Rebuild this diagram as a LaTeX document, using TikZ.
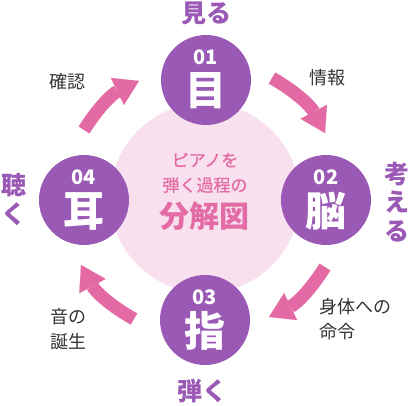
\documentclass[tikz,border=0pt]{standalone}
\usepackage{fontspec}
\newfontfamily\jp{Noto Sans CJK JP}
\newfontfamily\jpm[FakeBold=0.7]{Noto Sans CJK JP}
\usetikzlibrary{arrows.meta}
\definecolor{purp}{HTML}{9B59B6}
\definecolor{pinkarrow}{HTML}{E36AA4}
\definecolor{pinkbg}{HTML}{F9E0EE}
\definecolor{pinktext}{HTML}{E36CA6}
\definecolor{graytext}{HTML}{333333}
\begin{document}
\begin{tikzpicture}[x=1pt,y=1pt,
  stage/.style={circle, fill=purp, minimum size=90pt, inner sep=0pt},
  num/.style={text=white, font=\jp\bfseries\fontsize{20}{20}\selectfont, inner sep=0pt},
  kanji/.style={text=white, font=\jp\bfseries\fontsize{41}{41}\selectfont, inner sep=0pt},
  verb/.style={text=purp, font=\jp\bfseries\fontsize{25}{28.5}\selectfont, inner sep=0pt, align=center},
  note/.style={text=graytext, font=\jp\fontsize{18}{25}\selectfont, inner sep=0pt, align=left},
  coretext/.style={text=pinktext, font=\jpm\fontsize{17}{17}\selectfont, inner sep=0pt},
  cyc/.style={line width=13pt, draw=pinkarrow, -{Triangle[length=24pt,width=30pt,line width=0.1pt]}},
]
\useasboundingbox (-205,-206) rectangle (205,200);
\node[circle, fill=pinkbg, minimum size=190pt, inner sep=0pt] (core) at (0,2) {};
\node[coretext] (t1) at (0,40) {ピアノを};
\node[coretext] (t2) at (0,15) {弾く過程の};
\node[coretext, font=\jp\bfseries\fontsize{30}{30}\selectfont] (t3) at (0,-16) {分解図};

% arrows
\coordinate (a1s) at (-121,70);  \coordinate (a1e) at (-66,119);
\coordinate (a2s) at (67,122);   \coordinate (a2e) at (120,67);
\coordinate (a3s) at (120,-67);  \coordinate (a3e) at (64,-117);
\coordinate (a4s) at (-71,-119); \coordinate (a4e) at (-124,-65);
\draw[cyc] (a1s) to[bend left=16] (a1e);
\draw[cyc] (a2s) to[bend left=16] (a2e);
\draw[cyc] (a3s) to[bend left=16] (a3e);
\draw[cyc] (a4s) to[bend left=16] (a4e);

% stage circles
\node[stage] (s1) at (1,120) {};
\node[stage] (s2) at (121,0) {};
\node[stage] (s3) at (0,-120) {};
\node[stage] (s4) at (-121,0) {};
\node[num] (n1) at ([yshift=22.5pt]s1.center) {01};
\node[kanji] (k1) at ([yshift=-11pt]s1.center) {目};
\node[num] (n2) at ([yshift=22.5pt]s2.center) {02};
\node[kanji] (k2) at ([yshift=-11pt]s2.center) {脳};
\node[num] (n3) at ([yshift=22.5pt]s3.center) {03};
\node[kanji] (k3) at ([yshift=-11pt]s3.center) {指};
\node[num] (n4) at ([yshift=22.5pt]s4.center) {04};
\node[kanji] (k4) at ([yshift=-11pt]s4.center) {耳};

% verbs
\node[verb] (v1) at (2,187) {見る};
\node[verb] (v2) at (192,-2) {考\\え\\る};
\node[verb] (v3) at (-2,-191) {弾く};
\node[verb] (v4) at (-191,0.5) {聴\\く};

% notes
\node[note] (m1) at (-137,118) {確認};
\node[note] (m2) at (123,122.5) {情報};
\node[note, anchor=west] (m3) at (114,-119) {身体への\\命令};
\node[note, anchor=west] (m4) at (-155,-129) {音の\\誕生};
\end{tikzpicture}
\end{document}
